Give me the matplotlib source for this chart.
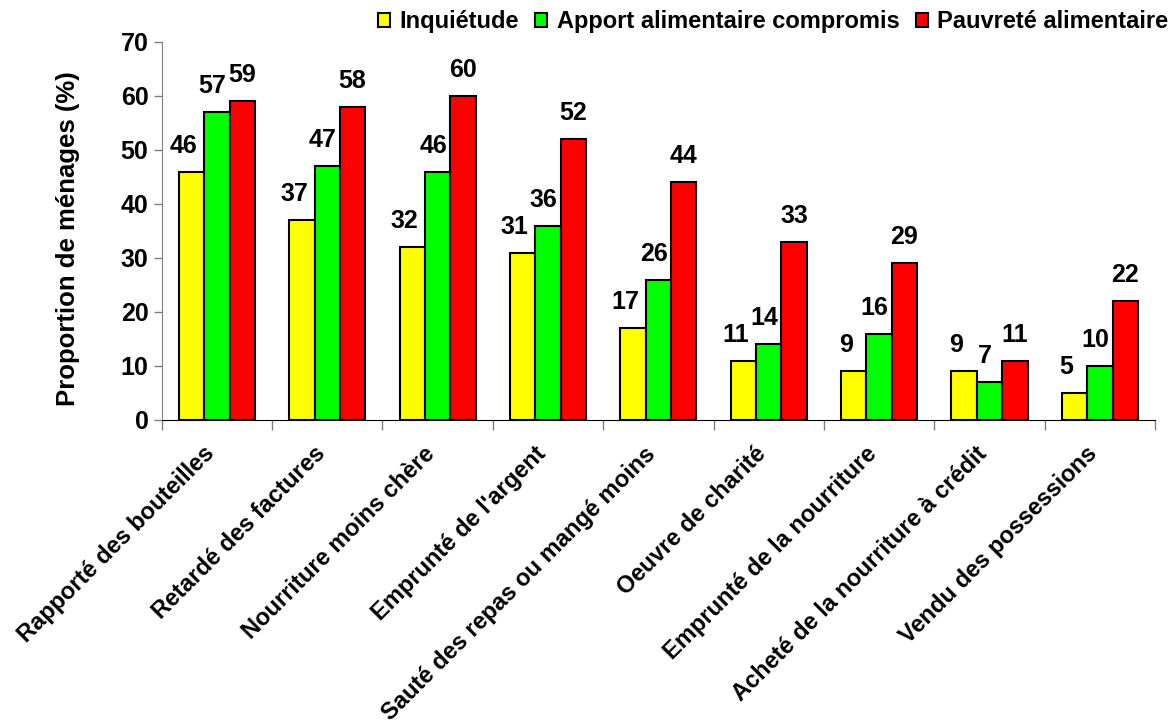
import matplotlib
matplotlib.use('Agg')
import matplotlib.pyplot as plt
import matplotlib.transforms as mtrans
import numpy as np

plt.rcParams['font.family'] = ['Liberation Sans', 'DejaVu Sans']
plt.rcParams['font.weight'] = 'bold'

# catégories et valeurs (%)
categories = ["Rapporté des bouteilles", "Retardé des factures", "Nourriture moins chère",
              "Emprunté de l'argent", "Sauté des repas ou mangé moins", "Oeuvre de charité",
              "Emprunté de la nourriture", "Acheté de la nourriture à crédit",
              "Vendu des possessions"]
inquietude = [46, 37, 32, 31, 17, 11, 9, 9, 5]
apport = [57, 47, 46, 36, 26, 14, 16, 7, 10]
pauvrete = [59, 58, 60, 52, 44, 33, 29, 11, 22]

series = [("Inquiétude", inquietude, "#FFFF00", -0.07),
          ("Apport alimentaire compromis", apport, "#00FF00", -0.04),
          ("Pauvreté alimentaire", pauvrete, "#FF0000", 0.0)]

fig = plt.figure(figsize=(11.72, 7.24), dpi=100)
ax = fig.add_axes([0.138, 0.42, 0.8475, 0.522])

x = np.arange(len(categories))
w = 0.23
for k, (nom, vals, col, dx) in enumerate(series):
    pos = x + (k - 1) * w
    ax.bar(pos, vals, w, color=col, edgecolor='black', linewidth=1.5, label=nom)
    # étiquettes de valeur
    for px, v in zip(pos, vals):
        ax.annotate(str(v), (px + dx, v), xytext=(0, 10), textcoords='offset points',
                    ha='center', va='bottom', fontsize=18, fontweight='bold')

ax.set_xlim(-0.5, len(categories) - 0.5)
ax.set_ylim(0, 70)
ax.set_yticks(range(0, 71, 10))
ax.tick_params(axis='y', labelsize=18, length=6, width=1, color='gray', direction='out')
ax.set_ylabel("Proportion de ménages (%)", fontsize=18.5, fontweight='bold')
ax.yaxis.set_label_coords(-0.082, 0.48)

# ticks entre les groupes
ax.set_xticks(np.arange(-0.5, len(categories), 1))
ax.set_xticklabels([])
ax.tick_params(axis='x', which='major', length=7, width=1, color='gray', direction='out')
ax.set_xticks(x, minor=True)
ax.set_xticklabels(categories, minor=True, rotation=45, ha='right',
                   rotation_mode='anchor', fontsize=17, fontweight='bold')
ax.tick_params(axis='x', which='minor', length=0, pad=16)
decal = mtrans.ScaledTranslation(-0.14, 0, fig.dpi_scale_trans)
for lab in ax.get_xticklabels(minor=True):
    lab.set_transform(lab.get_transform() + decal)

ax.spines['top'].set_visible(False)
ax.spines['right'].set_visible(False)
ax.spines['left'].set_color('gray')
ax.spines['bottom'].set_color('black')

fig.legend(loc='upper right', bbox_to_anchor=(1.015, 1.015), ncol=3, frameon=False,
           handlelength=0.5, handleheight=0.5, handletextpad=0.4,
           columnspacing=0.7, prop={'weight': 'bold', 'size': 17})

fig.savefig('out.png', dpi=100)
